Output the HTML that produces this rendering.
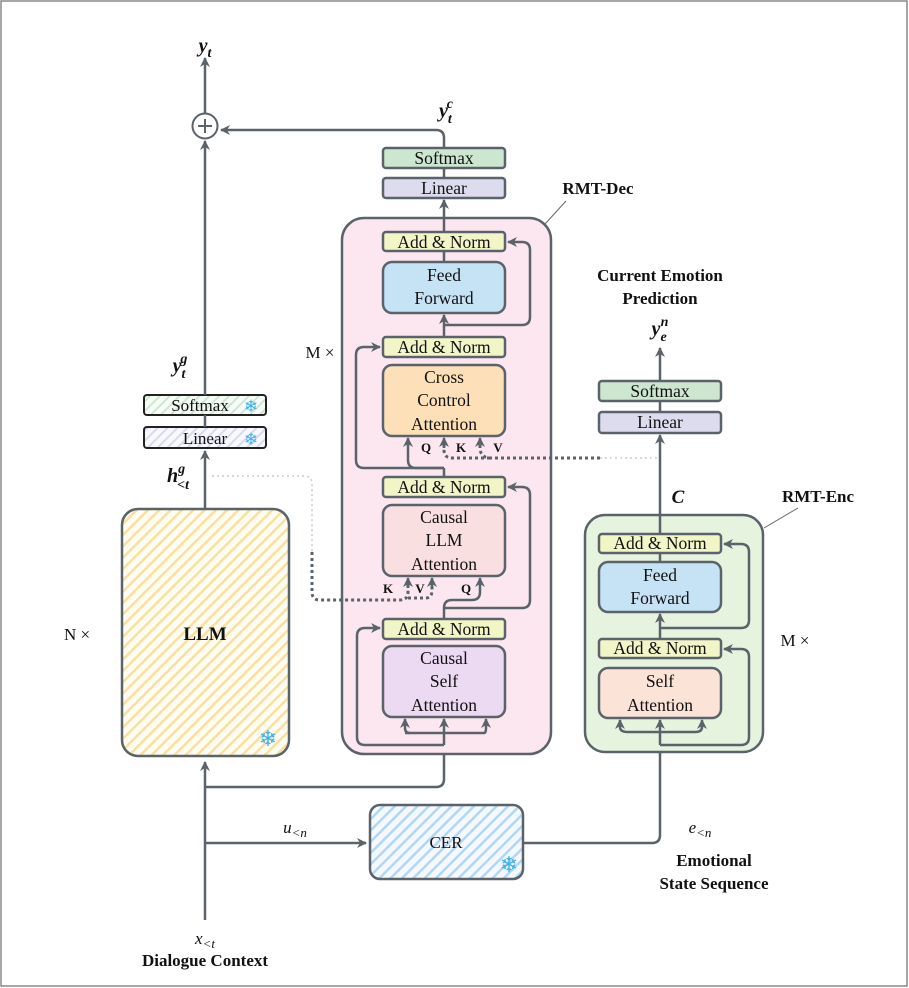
<!DOCTYPE html>
<html><head><meta charset="utf-8"><style>
html,body{margin:0;padding:0;background:#fff}
svg{display:block}
svg, svg text{font-family:"Liberation Serif","Times New Roman","DejaVu Serif",serif}
text{fill:#111}
.b{font-weight:bold}
.l{stroke:#5a626a;stroke-width:2.5;fill:none}
</style></head><body>
<svg width="909" height="988" viewBox="0 0 909 988" xmlns="http://www.w3.org/2000/svg" font-family="Liberation Serif, serif">
<defs>
<marker id="a" viewBox="0 0 10 10" refX="9" refY="5" markerWidth="4" markerHeight="4" orient="auto-start-reverse"><path d="M0,0 L10,5 L0,10 L3,5z" fill="#5a626a"/></marker>
<pattern id="hy" width="8" height="8" patternUnits="userSpaceOnUse" patternTransform="rotate(45)"><rect width="8" height="8" fill="#fffdf2"/><rect width="2.5" height="8" fill="#f9e0a0"/></pattern>
<pattern id="hb" width="8" height="8" patternUnits="userSpaceOnUse" patternTransform="rotate(45)"><rect width="8" height="8" fill="#f4f9ff"/><rect width="2.5" height="8" fill="#b3d7f3"/></pattern>
<pattern id="hg" width="7" height="7" patternUnits="userSpaceOnUse" patternTransform="rotate(45)"><rect width="7" height="7" fill="#f8fcf8"/><rect width="2" height="7" fill="#cfe7d1"/></pattern>
<pattern id="hv" width="7" height="7" patternUnits="userSpaceOnUse" patternTransform="rotate(45)"><rect width="7" height="7" fill="#f8f8fd"/><rect width="2" height="7" fill="#d8daf0"/></pattern>
</defs>
<rect x="1" y="1" width="906" height="985" fill="#fff" stroke="#888" stroke-width="1.5"/>

<rect x="122" y="509" width="167" height="247" rx="16" fill="url(#hy)" stroke="#5a626a" stroke-width="2.5"/>
<text x="205" y="640" font-size="19" text-anchor="middle" class="b">LLM</text>
<text x="268" y="746" font-size="22" text-anchor="middle" style="fill:#3ab0ee">❄</text>
<text x="77" y="640" font-size="17" text-anchor="middle">N ×</text>
<rect x="144" y="427" width="122" height="21" rx="3" fill="url(#hv)" stroke="#222" stroke-width="2"/>
<text x="205" y="444" font-size="17" text-anchor="middle">Linear</text>
<text x="251" y="445" font-size="17" text-anchor="middle" style="fill:#3ab0ee">❄</text>
<rect x="144" y="395" width="122" height="20" rx="3" fill="url(#hg)" stroke="#222" stroke-width="2"/>
<text x="200" y="411" font-size="17" text-anchor="middle">Softmax</text>
<text x="251" y="412" font-size="17" text-anchor="middle" style="fill:#3ab0ee">❄</text>
<path class="l" d="M205,509 L205,451" marker-end="url(#a)"/>
<path class="l" d="M205,427 L205,415"/>
<path class="l" d="M205,395 L205,141" marker-end="url(#a)"/>
<circle cx="205" cy="126" r="12.5" fill="#fff" stroke="#5a626a" stroke-width="2"/>
<path d="M198,126 H212 M205,119 V133" stroke="#5a626a" stroke-width="2"/>
<path class="l" d="M205,113 L205,58" marker-end="url(#a)"/>
<text x="205" y="52" font-size="20" text-anchor="middle" font-style="italic" class="b">y<tspan font-size="14" dy="5">t</tspan></text>
<text x="180" y="372" font-size="20" text-anchor="middle" font-style="italic" class="b">y<tspan font-size="14" dy="6">t</tspan><tspan font-size="14" dx="-5" dy="-15">g</tspan></text>
<text x="178" y="482" font-size="20" text-anchor="middle" font-style="italic" class="b">h<tspan font-size="14" dy="-9">g</tspan><tspan font-size="14" dx="-8" dy="16">&lt;t</tspan></text>

<path class="l" d="M205,920 L205,762" marker-end="url(#a)"/>
<path class="l" d="M205,787 L436,787 Q444,787 444,779 L444,745"/>
<path class="l" d="M205,843 L366,843" marker-end="url(#a)"/>
<text x="295" y="833" font-size="17" text-anchor="middle" font-style="italic">u<tspan font-size="13" dy="4">&lt;n</tspan></text>
<rect x="370" y="805" width="153" height="74" rx="10" fill="url(#hb)" stroke="#5a626a" stroke-width="2.5"/>
<text x="446" y="848" font-size="17" text-anchor="middle">CER</text>
<text x="509" y="872" font-size="22" text-anchor="middle" style="fill:#3ab0ee">❄</text>
<path class="l" d="M523,843 L652,843 Q660,843 660,835 L660,745"/>
<text x="700" y="833" font-size="17" text-anchor="middle" font-style="italic">e<tspan font-size="13" dy="4">&lt;n</tspan></text>
<text x="714" y="866" font-size="17" text-anchor="middle" class="b">Emotional</text>
<text x="714" y="889" font-size="17" text-anchor="middle" class="b">State Sequence</text>
<text x="205" y="944" font-size="17" text-anchor="middle" font-style="italic">x<tspan font-size="13" dy="4">&lt;t</tspan></text>
<text x="205" y="966" font-size="17" text-anchor="middle" class="b">Dialogue Context</text>

<rect x="342" y="218" width="209" height="536" rx="22" fill="#fce6f0" stroke="#5a626a" stroke-width="2.5"/>
<text x="320" y="358" font-size="17" text-anchor="middle">M ×</text>
<text x="598" y="194" font-size="17" text-anchor="middle" class="b">RMT-Dec</text>
<path d="M566,201 L545,224" stroke="#666" stroke-width="1"/>
<path class="l" d="M444,745 L444,719" marker-end="url(#a)"/>
<path class="l" d="M444,745 L365,745 Q357,745 357,737 L357,636 Q357,628 365,628 L380,628" marker-end="url(#a)"/>
<path class="l" d="M410,733 Q405,733 405,728 L405,719" marker-end="url(#a)"/>
<path class="l" d="M405,733 L484,733 Q486,733 486,728 L486,719" marker-end="url(#a)"/>
<path class="l" d="M444,619 L444,608"/>
<path class="l" d="M444,608 Q444,600 452,600 L472,600 Q480,600 480,592 L480,578" marker-end="url(#a)"/>
<path class="l" d="M444,608 L522,608 Q530,608 530,600 L530,495 Q530,487 522,487 L508,487" marker-end="url(#a)"/>
<path class="l" d="M444,477 L444,468"/>
<path class="l" d="M444,468 L364,468 Q356,468 356,460 L356,355 Q356,347 364,347 L380,347" marker-end="url(#a)"/>
<path class="l" d="M444,468 L416,468 Q408,468 408,460 L408,438" marker-end="url(#a)"/>
<path class="l" d="M444,337 L444,325"/>
<path class="l" d="M444,325 L444,315" marker-end="url(#a)"/>
<path class="l" d="M444,325 L522,325 Q530,325 530,317 L530,250 Q530,242 522,242 L508,242" marker-end="url(#a)"/>
<path class="l" d="M444,262 L444,251"/>
<path class="l" d="M444,232 L444,200" marker-end="url(#a)"/>
<path class="l" d="M444,178 L444,168"/>
<path class="l" d="M444,148 L444,138 Q444,130 436,130 L221,130" marker-end="url(#a)"/>
<text x="446" y="117" font-size="20" text-anchor="middle" font-style="italic" class="b">y<tspan font-size="14" dy="6">t</tspan><tspan font-size="14" dx="-5" dy="-15">c</tspan></text>
<path d="M212,476 L304,476 Q312,476 312,484 L312,552" stroke="#ccc" stroke-width="1.5" stroke-dasharray="2,3" fill="none"/>
<path d="M312,552 L312,592 Q312,600 320,600 L400,600 Q408,600 408,592 L408,580" stroke="#5a626a" stroke-width="3" stroke-dasharray="3,3" fill="none"/>
<path d="M408,598 L426,598 Q432,598 432,590 L432,580" stroke="#5a626a" stroke-width="3" stroke-dasharray="3,3" fill="none"/>
<path class="l" d="M408,588 L408,578" marker-end="url(#a)"/>
<path class="l" d="M432,588 L432,578" marker-end="url(#a)"/>
<path d="M600,458 L490,458 Q482,458 480,450 L480,442 M490,458 L452,458 Q444,458 444,450 L444,442" stroke="#5a626a" stroke-width="3" stroke-dasharray="3,3" fill="none"/>
<path d="M600,458 L660,458" stroke="#ccc" stroke-width="1.5" stroke-dasharray="2,3"/>
<path class="l" d="M444,448 L444,438" marker-end="url(#a)"/>
<path class="l" d="M480,448 L480,438" marker-end="url(#a)"/>
<g font-size="13"><text x="426" y="452" text-anchor="middle" class="b">Q</text><text x="461" y="452" text-anchor="middle" class="b">K</text><text x="498" y="452" text-anchor="middle" class="b">V</text>
<text x="388" y="593" text-anchor="middle" class="b">K</text><text x="420" y="593" text-anchor="middle" class="b">V</text><text x="466" y="593" text-anchor="middle" class="b">Q</text></g>
<g stroke="#5a626a" stroke-width="2.5">
<rect x="383" y="148" width="122" height="20" rx="3" fill="#cde6d0"/>
<rect x="383" y="178" width="122" height="20" rx="3" fill="#dcdcee"/>
<rect x="383" y="232" width="122" height="19" rx="3" fill="#f2f6c6"/>
<rect x="383" y="262" width="122" height="51" rx="9" fill="#c6e3f5"/>
<rect x="383" y="337" width="122" height="20" rx="3" fill="#f2f6c6"/>
<rect x="383" y="365" width="122" height="71" rx="9" fill="#fde0b8"/>
<rect x="383" y="477" width="122" height="20" rx="3" fill="#f2f6c6"/>
<rect x="383" y="505" width="122" height="71" rx="9" fill="#f9dfe0"/>
<rect x="383" y="619" width="122" height="20" rx="3" fill="#f2f6c6"/>
<rect x="383" y="646" width="122" height="71" rx="9" fill="#ecd9f2"/>
</g>
<g font-size="17.5" text-anchor="middle">
<text x="444" y="164">Softmax</text>
<text x="444" y="194">Linear</text>
<text x="444" y="248">Add &amp; Norm</text>
<text x="444" y="281">Feed</text><text x="444" y="304">Forward</text>
<text x="444" y="353">Add &amp; Norm</text>
<text x="444" y="383">Cross</text><text x="444" y="406">Control</text><text x="444" y="430">Attention</text>
<text x="444" y="493">Add &amp; Norm</text>
<text x="444" y="523">Causal</text><text x="444" y="546">LLM</text><text x="444" y="570">Attention</text>
<text x="444" y="635">Add &amp; Norm</text>
<text x="444" y="664">Causal</text><text x="444" y="687">Self</text><text x="444" y="711">Attention</text>
</g>

<rect x="585" y="515" width="178" height="237" rx="20" fill="#e6f3df" stroke="#5a626a" stroke-width="2.5"/>
<text x="795" y="646" font-size="17" text-anchor="middle">M ×</text>
<text x="818" y="502" font-size="17" text-anchor="middle" class="b">RMT-Enc</text>
<path d="M798,508 L764,528" stroke="#666" stroke-width="1"/>
<path class="l" d="M660,745 L660,720" marker-end="url(#a)"/>
<path class="l" d="M660,745 L741,745 Q749,745 749,737 L749,657 Q749,649 741,649 L724,649" marker-end="url(#a)"/>
<path class="l" d="M660,732 L628,732 Q620,732 620,727 L620,720" marker-end="url(#a)"/>
<path class="l" d="M660,732 L695,732 Q702,732 702,727 L702,720" marker-end="url(#a)"/>
<path class="l" d="M660,639 L660,628"/>
<path class="l" d="M660,628 L660,614" marker-end="url(#a)"/>
<path class="l" d="M660,628 L741,628 Q749,628 749,620 L749,552 Q749,544 741,544 L724,544" marker-end="url(#a)"/>
<path class="l" d="M660,562 L660,553"/>
<path class="l" d="M660,534 L660,435" marker-end="url(#a)"/>
<path class="l" d="M660,412 L660,401"/>
<path class="l" d="M660,381 L660,348" marker-end="url(#a)"/>
<text x="678" y="503" font-size="19" text-anchor="middle" font-style="italic" class="b">C</text>
<text x="660" y="335" font-size="20" text-anchor="middle" font-style="italic" class="b">y<tspan font-size="14" dy="6">e</tspan><tspan font-size="14" dx="-6" dy="-15">n</tspan></text>
<text x="660" y="281" font-size="17" text-anchor="middle" class="b">Current Emotion</text>
<text x="660" y="304" font-size="17" text-anchor="middle" class="b">Prediction</text>
<g stroke="#5a626a" stroke-width="2.5">
<rect x="599" y="381" width="122" height="20" rx="3" fill="#cde6d0"/>
<rect x="599" y="412" width="122" height="21" rx="3" fill="#dcdcee"/>
<rect x="599" y="534" width="122" height="19" rx="3" fill="#f2f6c6"/>
<rect x="599" y="562" width="122" height="50" rx="9" fill="#c6e3f5"/>
<rect x="599" y="639" width="122" height="19" rx="3" fill="#f2f6c6"/>
<rect x="599" y="668" width="122" height="50" rx="9" fill="#fbe3d8"/>
</g>
<g font-size="17.5" text-anchor="middle">
<text x="660" y="397">Softmax</text>
<text x="660" y="428">Linear</text>
<text x="660" y="549">Add &amp; Norm</text>
<text x="660" y="581">Feed</text><text x="660" y="604">Forward</text>
<text x="660" y="654">Add &amp; Norm</text>
<text x="660" y="687">Self</text><text x="660" y="711">Attention</text>
</g>
</svg>
</body></html>
